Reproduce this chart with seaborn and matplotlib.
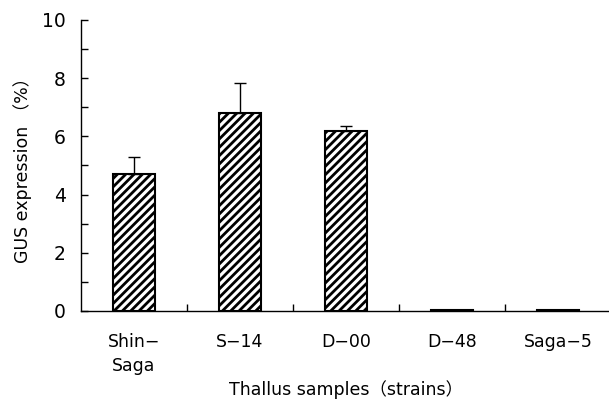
import matplotlib
matplotlib.use("Agg")
import matplotlib.pyplot as plt
import seaborn as sns
import pandas as pd
import numpy as np

categories = ["Shin\u2212\nSaga", "S\u221214", "D\u221200", "D\u221248", "Saga\u22125"]
values = [4.7, 6.8, 6.2, 0.03, 0.03]
errors = [0.6, 1.05, 0.15, 0.0, 0.0]
yticks = [0, 2, 4, 6, 8, 10]

sns.set_style("ticks")
plt.rcParams['font.family'] = ['DejaVu Sans', 'Noto Sans CJK JP']
plt.rcParams['hatch.linewidth'] = 2.0
plt.rcParams['hatch.color'] = 'black'
plt.rcParams['text.color'] = 'black'
plt.rcParams['axes.labelcolor'] = 'black'
plt.rcParams['xtick.color'] = 'black'
plt.rcParams['ytick.color'] = 'black'
plt.rcParams['axes.edgecolor'] = 'black'

df = pd.DataFrame({"strain": categories, "gus": values})

fig = plt.figure(figsize=(6.09, 4.08), dpi=100)
ax = fig.add_axes([0.133, 0.238, 0.87, 0.713])

sns.barplot(data=df, x="strain", y="gus", order=categories, color="white",
            edgecolor="black", linewidth=1.5, width=0.4, hatch="////",
            errorbar=None, ax=ax, saturation=1)
for p in ax.patches:
    p.set_facecolor("white")
    p.set_hatch("////")

xs = np.arange(len(categories))
mask = np.array(errors) > 0
ax.errorbar(xs[mask], np.array(values)[mask],
            yerr=[np.zeros(mask.sum()), np.array(errors)[mask]],
            fmt="none", ecolor="black", elinewidth=1.0, capsize=4.5, capthick=1.0)

ax.set_xlim(-0.5, len(categories) - 0.5)
ax.set_ylim(0, 10)
ax.set_yticks(yticks)
ax.set_yticks(np.arange(1, 10, 2), minor=True)
ax.tick_params(axis="y", which="both", direction="in", length=5, width=1, pad=11, labelsize=13.5)
ax.set_xticks(xs)
ax.set_xticklabels(categories)
ax.set_xticks(np.arange(0.5, len(categories) - 0.5, 1.0), minor=True)
ax.tick_params(axis="x", which="major", length=0, pad=16, labelsize=12.5)
ax.tick_params(axis="x", which="minor", direction="in", length=5, width=1)
for lbl in ax.get_xticklabels():
    lbl.set_verticalalignment("top")
    lbl.set_linespacing(1.4)

sns.despine(ax=ax, top=True, right=True)
ax.spines["left"].set_linewidth(1)
ax.spines["bottom"].set_linewidth(1)

ax.set_ylabel("GUS expression （%）", fontsize=12.5, labelpad=7)
ax.set_xlabel("Thallus samples（strains）", fontsize=12.5, labelpad=4)

fig.savefig("out.png", dpi=100)
